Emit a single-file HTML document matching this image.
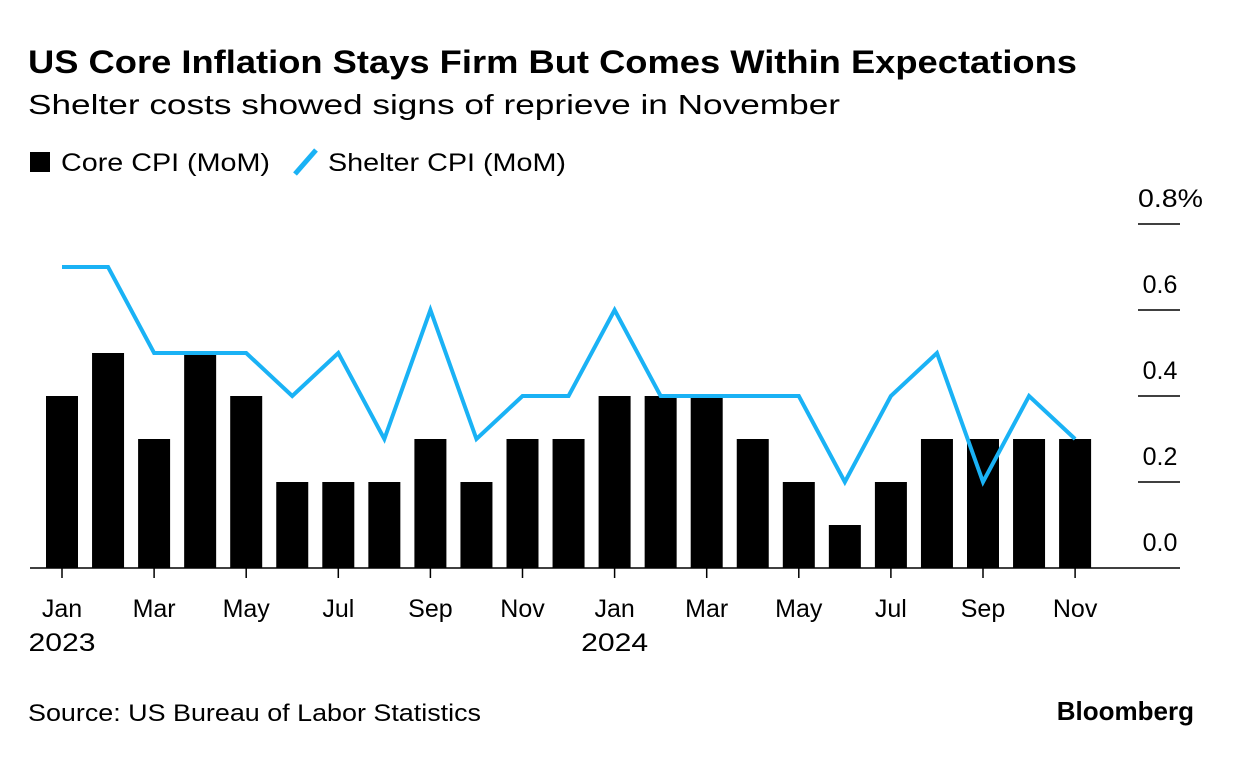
<!DOCTYPE html>
<html><head><meta charset="utf-8"><style>
body{margin:0;background:#fff;width:1233px;height:770px;overflow:hidden;font-family:"Liberation Sans",sans-serif;}
</style></head><body>
<svg width="1233" height="770" xmlns="http://www.w3.org/2000/svg" font-family="Liberation Sans, sans-serif" id="chart">
<text x="28" y="73" font-size="32" font-weight="bold" fill="#000" textLength="1049" lengthAdjust="spacingAndGlyphs">US Core Inflation Stays Firm But Comes Within Expectations</text>
<text x="28" y="114" font-size="28" fill="#000" textLength="812" lengthAdjust="spacingAndGlyphs">Shelter costs showed signs of reprieve in November</text>
<g>
<rect x="30" y="152" width="20" height="20" fill="#000"/>
<text x="61" y="171" font-size="25" textLength="209" lengthAdjust="spacingAndGlyphs">Core CPI (MoM)</text>
<line x1="295" y1="174" x2="316" y2="150" stroke="#1ab2f5" stroke-width="5"/>
<text x="328" y="171" font-size="25" textLength="238" lengthAdjust="spacingAndGlyphs">Shelter CPI (MoM)</text>
</g>
<g id="yaxis"></g>
<g id="bars"></g>
<g id="line"></g>
<g id="xaxis"></g>
<text x="28" y="721" font-size="24" textLength="453" lengthAdjust="spacingAndGlyphs">Source: US Bureau of Labor Statistics</text>
<text x="1194" y="720" font-size="26" font-weight="bold" text-anchor="end">Bloomberg</text>
</svg>
<script>
const months=["Jan","Feb","Mar","Apr","May","Jun","Jul","Aug","Sep","Oct","Nov","Dec","Jan","Feb","Mar","Apr","May","Jun","Jul","Aug","Sep","Oct","Nov"];
const coreCPI=[0.4,0.5,0.3,0.5,0.4,0.2,0.2,0.2,0.3,0.2,0.3,0.3,0.4,0.4,0.4,0.3,0.2,0.1,0.2,0.3,0.3,0.3,0.3];
const shelterCPI=[0.7,0.7,0.5,0.5,0.5,0.4,0.5,0.3,0.6,0.3,0.4,0.4,0.6,0.4,0.4,0.4,0.4,0.2,0.4,0.5,0.2,0.4,0.3];
const yTicks=[0,0.2,0.4,0.6,0.8];
const yTickLabels=["0.0","0.2","0.4","0.6","0.8%"];
const years={0:"2023",12:"2024"};
const NS="http://www.w3.org/2000/svg";
const y=v=>568-v*430;
const x=i=>62+i*46.05;
function mk(tag,attrs,parent){const e=document.createElementNS(NS,tag);for(const k in attrs)e.setAttribute(k,attrs[k]);parent.appendChild(e);return e;}
const ya=document.getElementById('yaxis');
yTicks.forEach((t,i)=>{
 if(t>0){const l=mk('line',{x1:1138,x2:1180,y1:y(t),y2:y(t),stroke:'#000','stroke-width':1.5},ya);
 
 }
 const tx=mk('text',{x:1160,y:y(t)-17,'font-size':25,'text-anchor':'middle'},ya);
 if(i===4){tx.setAttribute('x',1138);tx.setAttribute('text-anchor','start');tx.setAttribute('textLength',65);tx.setAttribute('lengthAdjust','spacingAndGlyphs');}
 tx.textContent=yTickLabels[i];
 
 
});
const bg=document.getElementById('bars');
coreCPI.forEach((v,i)=>{
 const r=mk('rect',{x:x(i)-16,y:y(v),width:32,height:y(0)-y(v),fill:'#000'},bg);
 
 
});
const lg=document.getElementById('line');
const p=mk('polyline',{points:shelterCPI.map((v,i)=>x(i)+','+y(v)).join(' '),fill:'none',stroke:'#1ab2f5','stroke-width':4,'stroke-linejoin':'miter'},lg);


const xa=document.getElementById('xaxis');
const base=mk('line',{x1:30,x2:1180,y1:568,y2:568,stroke:'#000','stroke-width':1.5},xa);


months.forEach((m,i)=>{
 if(i%2)return;
 const t=mk('line',{x1:x(i),x2:x(i),y1:568,y2:578,stroke:'#000','stroke-width':1.5},xa);
 
 
 const tx=mk('text',{x:x(i),y:617,'font-size':25,'text-anchor':'middle'},xa);
 tx.textContent=m;
 
 
 if(years[i]){const yt=mk('text',{x:x(i),y:651,'font-size':25,'text-anchor':'middle','textLength':67,'lengthAdjust':'spacingAndGlyphs'},xa);
 yt.textContent=years[i];
 
 }
});
</script>
</body></html>
